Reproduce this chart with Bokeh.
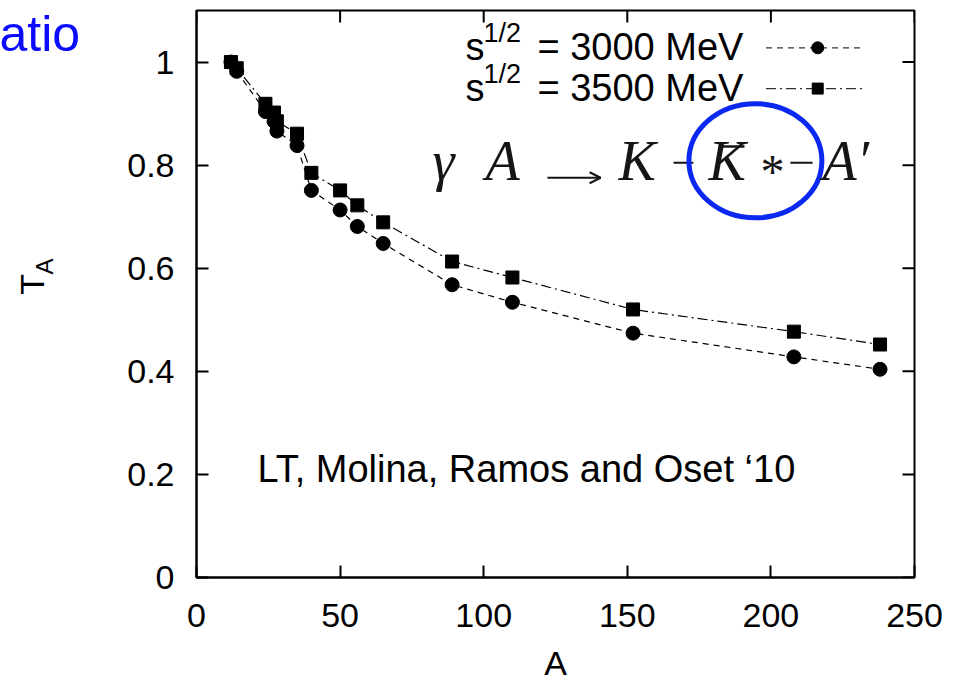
import math
from bokeh.plotting import figure
from bokeh.layouts import row
from bokeh.models import Range1d, FixedTicker, Label, Arrow, OpenHead
from bokeh.embed import file_html
from bokeh.resources import INLINE

# ---- data ----
mass_number = [12, 14, 24, 27, 28, 35, 40, 50, 56, 65, 89, 110, 152, 208, 238]
t_3000 = [1.0, 0.982, 0.904, 0.885, 0.866, 0.838, 0.751, 0.713, 0.681, 0.648,
          0.568, 0.534, 0.474, 0.428, 0.404]
t_3500 = [1.0, 0.988, 0.919, 0.902, 0.885, 0.861, 0.785, 0.751, 0.722, 0.689,
          0.613, 0.582, 0.520, 0.477, 0.452]
x_ticks = [0, 50, 100, 150, 200, 250]
y_ticks = [0, 0.2, 0.4, 0.6, 0.8, 1.0]
y_tick_labels = ["0", "0.2", "0.4", "0.6", "0.8", "1"]
series_labels = ["= 3000 MeV", "= 3500 MeV"]

FONT = "Liberation Sans"
SERIF = "Liberation Serif"
X_MAX, Y_MAX = 250, 1.1

# ---- left strip with the clipped slide title and the y label ----
side = figure(width=110, height=698, x_range=Range1d(0, 110), y_range=Range1d(698, 0),
              output_backend="svg", toolbar_location=None, title=None,
              x_axis_location=None, y_axis_location=None,
              min_border_left=0, min_border_right=0, min_border_top=0,
              min_border_bottom=0)
side.grid.visible = False
side.outline_line_color = None
side.add_layout(Label(x=-1, y=64, text="atio", text_font=FONT, text_font_size="50px",
                      text_color="#0a0aff"))
side.add_layout(Label(x=50, y=350, text="T", angle=math.pi / 2, text_font=FONT,
                      text_font_size="34px", text_color="black"))
side.add_layout(Label(x=57, y=325, text="A", angle=math.pi / 2, text_font=FONT,
                      text_font_size="24px", text_color="black"))

# ---- main chart ----
p = figure(width=859, height=698, x_range=Range1d(0, X_MAX), y_range=Range1d(0, Y_MAX),
           output_backend="svg", toolbar_location=None, title=None,
           min_border_left=86, min_border_right=55, min_border_top=10,
           min_border_bottom=121)
p.xgrid.visible = False
p.ygrid.visible = False
p.outline_line_color = "black"
p.outline_line_width = 2
p.background_fill_color = "white"
p.border_fill_color = "white"


def style_axis(ax):
    ax.axis_line_color = "black"
    ax.axis_line_width = 2
    ax.major_tick_in = 12
    ax.major_tick_out = 0
    ax.major_tick_line_width = 2
    ax.major_tick_line_color = "black"
    ax.minor_tick_line_color = None
    ax.major_label_text_font = FONT
    ax.major_label_text_color = "black"
    ax.major_label_text_font_size = "34px"


xa = p.xaxis[0]
xa.ticker = FixedTicker(ticks=x_ticks)
style_axis(xa)
xa.major_label_standoff = 26
xa.axis_label = "A"
xa.axis_label_text_font = FONT
xa.axis_label_text_font_size = "34px"
xa.axis_label_text_font_style = "normal"
xa.axis_label_text_color = "black"
xa.axis_label_standoff = 14

ya = p.yaxis[0]
ya.ticker = FixedTicker(ticks=y_ticks)
ya.major_label_overrides = dict(zip(y_ticks, y_tick_labels))
style_axis(ya)
ya.major_label_standoff = 22

# mirrored inward ticks on the top and right edges
tick_dy = 12 / 515.5
tick_dx = 12 / 2.872
p.segment(x0=x_ticks, y0=[Y_MAX] * len(x_ticks), x1=x_ticks,
          y1=[Y_MAX - tick_dy] * len(x_ticks), line_color="black", line_width=2)
p.segment(x0=[X_MAX] * len(y_ticks), y0=y_ticks, x1=[X_MAX - tick_dx] * len(y_ticks),
          y1=y_ticks, line_color="black", line_width=2)

# ---- series ----
p.line(mass_number, t_3000, line_color="black", line_width=1.2, line_dash="6 5")
p.line(mass_number, t_3500, line_color="black", line_width=1.2, line_dash="10 4 2 4")
p.scatter(mass_number, t_3000, marker="circle", size=14, fill_color="black", line_color="black")
p.scatter(mass_number, t_3500, marker="square", size=13, fill_color="black", line_color="black")

# ---- legend (drawn manually for the s^{1/2} superscript) ----
leg_y = [1.0276, 0.9485]
p.line([198.3, 232.4], [leg_y[0]] * 2, line_color="#333333", line_width=1.2, line_dash="6 5")
p.line([198.3, 232.4], [leg_y[1]] * 2, line_color="#333333", line_width=1.2, line_dash="10 4 2 4")
p.scatter([216.3], [leg_y[0]], marker="circle", size=12, fill_color="black", line_color="black")
p.scatter([216.3], [leg_y[1]], marker="square", size=11, fill_color="black", line_color="black")
for i, base in enumerate([0.989, 0.908]):
    p.add_layout(Label(x=93.7, y=base, text="s", text_font=FONT, text_font_size="38px",
                       text_color="black"))
    p.add_layout(Label(x=99.9, y=base + 0.039, text="1/2", text_font=FONT,
                       text_font_size="27px", text_color="black"))
    p.add_layout(Label(x=118.7, y=base, text=series_labels[i], text_font=FONT,
                       text_font_size="38px", text_color="black"))

# ---- reaction equation ----
eq_base = 0.748
eq_col = "#151515"


def eq(x, y, t, size="56px", style="italic"):
    p.add_layout(Label(x=x, y=y, text=t, text_font=SERIF, text_font_size=size,
                       text_font_style=style, text_color=eq_col))


eq(82.2, eq_base, "γ")
eq(100.6, eq_base, "A")
p.add_layout(Arrow(x_start=122.2, y_start=0.7755, x_end=140.7, y_end=0.7755,
                   line_color=eq_col, line_width=2,
                   end=OpenHead(size=11, line_color=eq_col, line_width=2)))
eq(146.9, eq_base, "K")
p.segment(x0=[166.1, 206.8], y0=[0.8047, 0.8047], x1=[173.0, 214.5], y1=[0.8047, 0.8047],
          line_color=eq_col, line_width=2)
eq(178.3, eq_base, "K")
p.segment(x0=[182.5], y0=[0.836], x1=[190.8], y1=[0.836], line_color=eq_col, line_width=2.5)
eq(196.4, 0.737, "*", size="48px", style="normal")
eq(218.0, eq_base, "A′")

# blue highlight ellipse
p.ellipse(x=[194.6], y=[0.8085], width=46.3, height=0.2216, fill_color=None,
          line_color="#0a28f0", line_width=5)

# ---- citation ----
p.add_layout(Label(x=21.2, y=0.169, text="LT, Molina, Ramos and Oset ‘10", text_font=FONT,
                   text_font_size="38px", text_color="black"))

open("out.html", "w").write(file_html(row(side, p, spacing=0), INLINE))
